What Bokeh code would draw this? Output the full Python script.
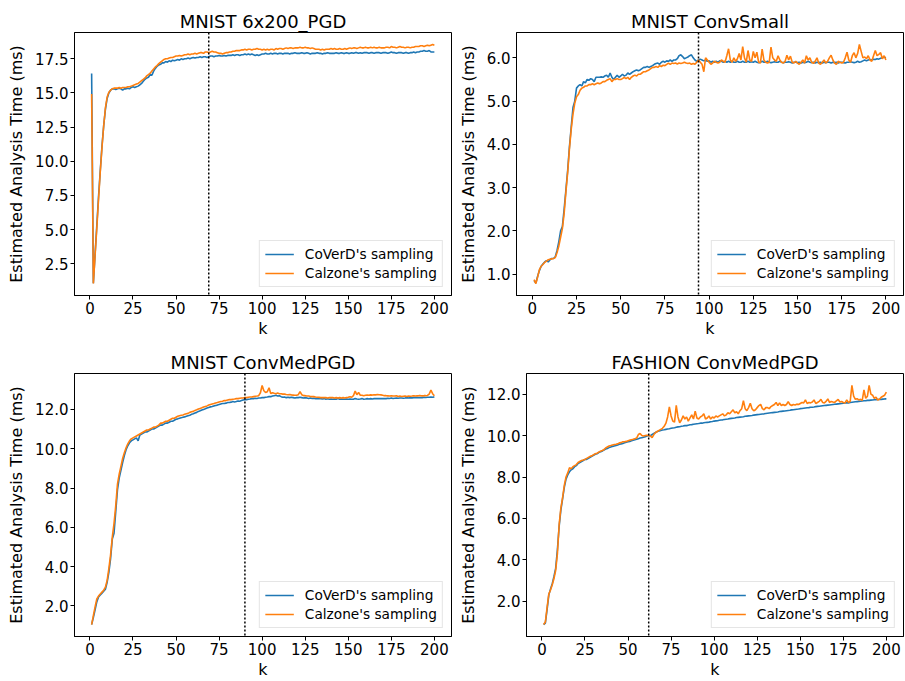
from bokeh.plotting import figure
from bokeh.layouts import column, row
from bokeh.models import Range1d, Span, Legend, LegendItem, FixedTicker, PrintfTickFormatter
from bokeh.embed import file_html
from bokeh.resources import INLINE

k = list(range(1, 201))
x_ticks = [0, 25, 50, 75, 100, 125, 150, 175, 200]
series_names = ["CoVerD's sampling", "Calzone's sampling"]
colors = ["#1f77b4", "#ff7f0e"]

# ---------- MNIST 6x200_PGD ----------
title1 = "MNIST 6x200_PGD"
vline1 = 69
yticks1 = [2.5, 5.0, 7.5, 10.0, 12.5, 15.0, 17.5]
coverd1 = [
    16.43, 1.08, 3.2, 5.3, 7.4, 9.3, 11.1, 12.6, 13.8, 14.6,
    15.0, 15.2, 15.3, 15.3, 15.25, 15.3, 15.35, 15.3, 15.2, 15.3,
    15.3, 15.35, 15.3, 15.4, 15.45, 15.4, 15.45, 15.5, 15.6, 15.7,
    15.85, 16.0, 16.1, 16.15, 16.35, 16.3, 16.6, 16.8, 16.95, 17.05,
    17.1, 17.2, 17.2, 17.3, 17.25, 17.35, 17.3, 17.4, 17.35, 17.4,
    17.45, 17.4, 17.5, 17.45, 17.5, 17.5, 17.55, 17.5, 17.55, 17.6,
    17.55, 17.6, 17.6, 17.65, 17.6, 17.65, 17.65, 17.6, 17.65, 17.7,
    17.7, 17.65, 17.7, 17.7, 17.75, 17.7, 17.7, 17.75, 17.7, 17.75,
    17.75, 17.75, 17.8, 17.75, 17.8, 17.8, 17.75, 17.8, 17.8, 17.85,
    17.8, 17.85, 17.8, 17.85, 17.8, 17.75, 17.8, 17.75, 17.8, 17.85,
    17.85, 17.9, 17.85, 17.85, 17.9, 17.85, 17.9, 17.9, 17.85, 17.9,
    17.9, 17.85, 17.9, 17.9, 17.9, 17.85, 17.9, 17.9, 17.95, 17.9,
    17.9, 17.9, 17.95, 17.9, 17.9, 17.95, 17.9, 17.85, 17.9, 17.9,
    17.9, 17.95, 17.9, 17.9, 17.85, 17.9, 17.9, 17.95, 17.9, 17.9,
    17.9, 17.9, 17.95, 17.9, 17.9, 17.95, 17.9, 17.9, 17.95, 17.9,
    17.9, 17.95, 17.9, 17.95, 17.95, 17.9, 17.95, 17.9, 17.95, 17.95,
    17.95, 17.9, 17.95, 17.95, 17.9, 17.95, 17.95, 17.95, 17.9, 17.95,
    17.95, 17.95, 17.9, 17.95, 18.0, 17.95, 17.95, 17.9, 17.95, 17.95,
    17.95, 17.9, 17.95, 17.95, 17.9, 17.95, 17.95, 18.0, 17.95, 18.0,
    18.0, 18.05, 18.05, 18.1, 18.05, 18.05, 18.1, 18.0, 18.0, 18.0,
]
calzone1 = [
    14.92, 1.05, 3.1, 5.1, 7.2, 9.2, 11.0, 12.6, 13.9, 14.7,
    15.05, 15.2, 15.3, 15.35, 15.35, 15.35, 15.4, 15.35, 15.4, 15.4,
    15.4, 15.45, 15.45, 15.5, 15.55, 15.6, 15.65, 15.7, 15.8, 15.9,
    16.0, 16.1, 16.25, 16.35, 16.45, 16.6, 16.75, 16.9, 17.0, 17.15,
    17.25, 17.35, 17.45, 17.5, 17.5, 17.55, 17.6, 17.6, 17.65, 17.7,
    17.7, 17.75, 17.7, 17.75, 17.8, 17.8, 17.85, 17.8, 17.85, 17.85,
    17.9, 17.85, 17.9, 17.95, 17.95, 17.9, 18.0, 18.0, 17.95, 18.0,
    18.05, 18.0, 18.0, 17.95, 17.9, 17.9, 17.85, 17.9, 17.95, 17.95,
    18.0, 18.0, 18.05, 18.05, 18.1, 18.1, 18.1, 18.15, 18.15, 18.2,
    18.15, 18.2, 18.2, 18.15, 18.2, 18.2, 18.25, 18.2, 18.2, 18.15,
    18.2, 18.15, 18.2, 18.15, 18.2, 18.2, 18.15, 18.25, 18.2, 18.25,
    18.25, 18.2, 18.25, 18.3, 18.25, 18.3, 18.3, 18.25, 18.3, 18.3,
    18.3, 18.35, 18.3, 18.3, 18.35, 18.3, 18.3, 18.25, 18.3, 18.25,
    18.2, 18.2, 18.2, 18.15, 18.2, 18.15, 18.2, 18.2, 18.2, 18.25,
    18.2, 18.25, 18.2, 18.2, 18.25, 18.2, 18.2, 18.25, 18.2, 18.25,
    18.3, 18.25, 18.3, 18.3, 18.25, 18.3, 18.35, 18.3, 18.3, 18.35,
    18.3, 18.3, 18.35, 18.3, 18.35, 18.3, 18.3, 18.35, 18.3, 18.3,
    18.3, 18.35, 18.35, 18.3, 18.4, 18.35, 18.35, 18.3, 18.35, 18.4,
    18.35, 18.35, 18.3, 18.35, 18.35, 18.3, 18.35, 18.35, 18.4, 18.4,
    18.4, 18.45, 18.45, 18.4, 18.45, 18.5, 18.45, 18.5, 18.55, 18.5,
]

# ---------- MNIST ConvSmall ----------
title2 = "MNIST ConvSmall"
vline2 = 94
yticks2 = [1.0, 2.0, 3.0, 4.0, 5.0, 6.0]
coverd2 = [
    0.85, 0.79, 0.95, 1.08, 1.18, 1.23, 1.28, 1.31, 1.28, 1.33,
    1.36, 1.36, 1.4, 1.55, 1.75, 2.0, 2.1, 2.5, 2.95, 3.4,
    3.95, 4.4, 4.85, 5.0, 5.3, 5.35, 5.38, 5.35, 5.45, 5.42,
    5.5, 5.48, 5.52, 5.5, 5.45, 5.55, 5.55, 5.55, 5.56, 5.55,
    5.58, 5.6, 5.55, 5.65, 5.55, 5.5, 5.55, 5.6, 5.55, 5.58,
    5.62, 5.58, 5.6, 5.65, 5.62, 5.65, 5.68, 5.7, 5.72, 5.7,
    5.72, 5.75, 5.78, 5.78, 5.8, 5.78, 5.8, 5.82, 5.85, 5.87,
    5.88, 5.85, 5.9, 5.92, 5.9, 5.93, 5.92, 5.95, 5.92, 5.95,
    5.95, 5.98, 6.05, 6.07, 6.03, 5.98, 6.0, 6.02, 6.05, 6.07,
    6.0, 5.95, 5.92, 5.95, 5.97, 5.95, 5.93, 5.95, 5.92, 5.93,
    5.9, 5.92, 5.9, 5.92, 5.9, 5.93, 5.92, 5.9, 5.92, 5.9,
    5.92, 5.9, 5.92, 5.9, 5.9, 5.92, 5.9, 5.9, 5.92, 5.9,
    5.9, 5.92, 5.9, 5.91, 5.9, 5.92, 5.9, 5.89, 5.9, 5.92,
    5.9, 5.9, 5.92, 5.9, 5.89, 5.9, 5.91, 5.9, 5.9, 5.92,
    5.9, 5.89, 5.9, 5.9, 5.91, 5.9, 5.88, 5.9, 5.9, 5.89,
    5.9, 5.88, 5.9, 5.89, 5.9, 5.92, 5.9, 5.89, 5.9, 5.88,
    5.9, 5.89, 5.9, 5.88, 5.9, 5.89, 5.9, 5.9, 5.88, 5.9,
    5.89, 5.9, 5.88, 5.9, 5.9, 5.89, 5.88, 5.9, 5.9, 5.91,
    5.9, 5.89, 5.9, 5.92, 5.9, 5.91, 5.93, 5.95, 5.93, 5.95,
    5.96, 5.95, 5.97, 5.96, 5.98, 5.97, 5.99, 6.0, 6.02, 6.0,
]
calzone2 = [
    0.87, 0.78, 0.93, 1.1, 1.18, 1.22, 1.27, 1.3, 1.33, 1.34,
    1.35, 1.36, 1.38, 1.5, 1.65, 1.85, 2.05, 2.4, 2.9, 3.35,
    3.9, 4.35, 4.7, 4.95, 5.1, 5.15, 5.25, 5.3, 5.32, 5.35,
    5.35, 5.38, 5.38, 5.4, 5.38, 5.4, 5.42, 5.4, 5.42, 5.45,
    5.45, 5.48, 5.5, 5.52, 5.45, 5.5, 5.5, 5.52, 5.5, 5.5,
    5.52, 5.55, 5.52, 5.55, 5.5, 5.55, 5.58, 5.6, 5.58, 5.62,
    5.62, 5.65, 5.68, 5.68, 5.7, 5.72, 5.75, 5.78, 5.78, 5.8,
    5.78, 5.82, 5.8, 5.83, 5.82, 5.85, 5.88, 5.85, 5.88, 5.87,
    5.88, 5.86, 5.88, 5.87, 5.88, 5.9, 5.88, 5.87, 5.88, 5.85,
    5.87, 5.85, 5.9, 5.95, 5.9, 5.85, 5.68, 6.0, 5.95, 5.9,
    5.85, 5.88, 5.92, 5.9, 5.88, 5.9, 5.95, 5.92, 5.9, 6.05,
    6.21, 5.95, 5.9, 6.0, 5.92, 5.98, 6.1, 5.95, 6.26, 6.0,
    5.9, 6.17, 5.95, 5.92, 6.15, 6.0, 6.13, 5.9, 5.88, 6.2,
    5.95, 5.9, 5.88, 5.9, 6.25, 6.0, 5.95, 5.92, 6.05, 5.95,
    5.9, 5.88, 5.92, 6.06, 5.95, 6.04, 5.9, 5.88, 5.92, 5.88,
    5.85, 5.9, 5.95, 5.88, 6.05, 5.95, 6.0, 5.9, 5.87, 5.92,
    6.0, 5.88, 5.85, 5.9, 5.95, 5.88, 5.92, 6.0, 6.06, 5.95,
    5.88, 5.85, 5.92, 5.9, 5.88, 5.9, 6.0, 6.13, 5.95, 5.9,
    6.05, 6.12, 6.0, 6.1, 6.31, 6.15, 6.0, 6.02, 5.98, 6.05,
    5.95, 5.92, 6.05, 6.17, 6.05, 6.08, 6.12, 5.98, 6.05, 5.95,
]

# ---------- MNIST ConvMedPGD ----------
title3 = "MNIST ConvMedPGD"
vline3 = 90
yticks3 = [2.0, 4.0, 6.0, 8.0, 10.0, 12.0]
coverd3 = [
    1.05, 1.4, 1.8, 2.2, 2.45, 2.55, 2.65, 2.75, 2.85, 3.2,
    3.7, 4.4, 5.4, 5.7, 6.8, 7.9, 8.5, 8.9, 9.3, 9.65,
    9.95, 10.15, 10.3, 10.4, 10.45, 10.5, 10.55, 10.4, 10.7, 10.75,
    10.8, 10.85, 10.85, 10.9, 10.95, 11.0, 11.0, 11.05, 11.1, 11.15,
    11.2, 11.2, 11.25, 11.3, 11.3, 11.35, 11.4, 11.4, 11.45, 11.5,
    11.52, 11.55, 11.58, 11.6, 11.62, 11.65, 11.68, 11.7, 11.75, 11.78,
    11.82, 11.85, 11.9, 11.93, 11.97, 12.0, 12.03, 12.07, 12.1, 12.13,
    12.15, 12.18, 12.2, 12.22, 12.25, 12.28, 12.3, 12.3, 12.32, 12.35,
    12.35, 12.37, 12.4, 12.38, 12.4, 12.43, 12.42, 12.45, 12.48, 12.5,
    12.5, 12.52, 12.53, 12.55, 12.55, 12.57, 12.56, 12.58, 12.58, 12.6,
    12.6, 12.62, 12.63, 12.65, 12.65, 12.68, 12.7, 12.72, 12.68, 12.7,
    12.65, 12.62, 12.63, 12.6, 12.62, 12.6, 12.62, 12.6, 12.58, 12.6,
    12.6, 12.62, 12.6, 12.58, 12.6, 12.58, 12.56, 12.58, 12.56, 12.57,
    12.55, 12.56, 12.55, 12.55, 12.53, 12.55, 12.52, 12.54, 12.52, 12.53,
    12.52, 12.53, 12.52, 12.55, 12.52, 12.53, 12.52, 12.52, 12.53, 12.52,
    12.53, 12.52, 12.52, 12.55, 12.53, 12.52, 12.53, 12.55, 12.52, 12.53,
    12.55, 12.53, 12.55, 12.53, 12.55, 12.55, 12.56, 12.55, 12.56, 12.55,
    12.56, 12.55, 12.57, 12.56, 12.58, 12.56, 12.57, 12.58, 12.57, 12.58,
    12.58, 12.57, 12.58, 12.6, 12.58, 12.6, 12.59, 12.6, 12.6, 12.6,
    12.6, 12.61, 12.6, 12.62, 12.61, 12.62, 12.62, 12.63, 12.62, 12.64,
]
calzone3 = [
    1.05, 1.5, 1.95, 2.35, 2.5, 2.6, 2.7, 2.8, 2.95, 3.3,
    3.9, 4.6, 5.5, 6.2, 7.1, 8.2, 8.7, 9.1, 9.5, 9.8,
    10.05, 10.25, 10.4, 10.5, 10.55, 10.6, 10.65, 10.7, 10.75, 10.8,
    10.85, 10.9, 10.95, 10.95, 11.0, 11.05, 11.1, 11.1, 11.15, 11.2,
    11.3, 11.3, 11.35, 11.4, 11.4, 11.45, 11.5, 11.55, 11.55, 11.6,
    11.65, 11.68, 11.7, 11.72, 11.75, 11.78, 11.8, 11.85, 11.88, 11.9,
    11.95, 11.98, 12.02, 12.05, 12.08, 12.12, 12.15, 12.18, 12.22, 12.25,
    12.28, 12.3, 12.33, 12.35, 12.38, 12.4, 12.42, 12.45, 12.45, 12.48,
    12.5, 12.5, 12.52, 12.53, 12.55, 12.55, 12.57, 12.58, 12.58, 12.6,
    12.6, 12.62, 12.63, 12.63, 12.65, 12.67, 12.68, 12.7, 12.85, 13.22,
    12.95, 12.86, 12.9, 13.1, 12.81, 12.85, 12.82, 12.8, 12.83, 12.8,
    12.8, 12.78, 12.78, 12.76, 12.75, 12.76, 12.74, 12.73, 12.72, 12.72,
    12.75, 12.9, 12.75, 12.7, 12.7, 12.68, 12.68, 12.66, 12.65, 12.65,
    12.63, 12.62, 12.62, 12.6, 12.6, 12.6, 12.6, 12.58, 12.6, 12.6,
    12.6, 12.58, 12.6, 12.58, 12.6, 12.58, 12.6, 12.58, 12.6, 12.62,
    12.65, 12.62, 12.7, 12.93, 12.75, 12.86, 12.72, 12.72, 12.7, 12.72,
    12.73, 12.72, 12.74, 12.73, 12.75, 12.74, 12.76, 12.75, 12.74, 12.72,
    12.7, 12.7, 12.69, 12.68, 12.7, 12.68, 12.68, 12.7, 12.66, 12.68,
    12.66, 12.67, 12.68, 12.66, 12.68, 12.67, 12.68, 12.7, 12.68, 12.69,
    12.7, 12.7, 12.69, 12.7, 12.7, 12.71, 12.78, 12.98, 12.8, 12.7,
]

# ---------- FASHION ConvMedPGD ----------
title4 = "FASHION ConvMedPGD"
vline4 = 62
yticks4 = [2.0, 4.0, 6.0, 8.0, 10.0, 12.0]
coverd4 = [
    0.88, 0.95, 1.6, 2.3, 2.6, 2.85, 3.2, 3.6, 4.5, 5.6,
    6.4, 6.95, 7.5, 7.9, 8.1, 8.25, 8.35, 8.4, 8.5, 8.55,
    8.65, 8.7, 8.75, 8.8, 8.85, 8.85, 8.9, 8.95, 9.0, 9.05,
    9.1, 9.12, 9.18, 9.22, 9.25, 9.3, 9.35, 9.38, 9.42, 9.45,
    9.48, 9.5, 9.52, 9.55, 9.58, 9.6, 9.62, 9.65, 9.68, 9.7,
    9.72, 9.75, 9.78, 9.8, 9.82, 9.85, 9.88, 9.9, 9.92, 9.95,
    9.98, 10.0, 10.0, 10.05, 10.1, 10.15, 10.2, 10.22, 10.25, 10.27,
    10.28, 10.3, 10.32, 10.33, 10.35, 10.37, 10.38, 10.4, 10.42, 10.43,
    10.45, 10.46, 10.48, 10.48, 10.5, 10.52, 10.53, 10.55, 10.56, 10.57,
    10.58, 10.6, 10.6, 10.62, 10.63, 10.64, 10.65, 10.67, 10.68, 10.7,
    10.71, 10.72, 10.74, 10.75, 10.76, 10.78, 10.79, 10.8, 10.82, 10.83,
    10.84, 10.85, 10.87, 10.88, 10.89, 10.9, 10.91, 10.93, 10.94, 10.95,
    10.96, 10.97, 10.99, 11.0, 11.01, 11.02, 11.03, 11.04, 11.05, 11.07,
    11.08, 11.09, 11.1, 11.11, 11.12, 11.13, 11.14, 11.16, 11.17, 11.18,
    11.19, 11.2, 11.21, 11.22, 11.24, 11.25, 11.26, 11.27, 11.28, 11.3,
    11.31, 11.32, 11.33, 11.34, 11.35, 11.37, 11.37, 11.38, 11.4, 11.41,
    11.42, 11.43, 11.44, 11.45, 11.46, 11.47, 11.48, 11.49, 11.5, 11.51,
    11.52, 11.53, 11.54, 11.55, 11.56, 11.57, 11.58, 11.58, 11.6, 11.61,
    11.62, 11.63, 11.64, 11.65, 11.66, 11.67, 11.68, 11.68, 11.7, 11.7,
    11.71, 11.72, 11.73, 11.73, 11.74, 11.75, 11.75, 11.76, 11.77, 11.77,
]
calzone4 = [
    0.88, 1.0, 1.7, 2.35, 2.55, 2.8, 3.1, 3.5, 4.3, 5.7,
    6.5, 7.0, 7.6, 8.0, 8.2, 8.45, 8.4, 8.5, 8.55, 8.6,
    8.7, 8.75, 8.8, 8.82, 8.85, 8.9, 8.95, 9.0, 9.02, 9.08,
    9.12, 9.15, 9.2, 9.25, 9.28, 9.32, 9.4, 9.45, 9.5, 9.52,
    9.55, 9.57, 9.58, 9.6, 9.65, 9.66, 9.7, 9.7, 9.72, 9.75,
    9.78, 9.8, 9.82, 9.85, 9.88, 10.05, 10.1, 10.0, 9.98, 10.0,
    10.02, 10.0, 9.98, 9.9, 10.05, 10.15, 10.2, 10.25, 10.3, 10.35,
    10.45, 10.6, 10.9, 11.38, 10.95, 10.7, 10.65, 11.46, 10.9, 10.62,
    10.75, 10.95, 10.8, 10.9, 10.7, 10.85, 11.0, 10.8, 11.18, 10.85,
    10.8, 10.9, 10.95, 11.05, 10.8, 10.85, 10.95, 10.8, 10.9, 10.85,
    10.95, 10.9, 10.95, 11.0, 11.05, 10.95, 11.0, 11.1, 11.05, 11.15,
    11.24, 11.1, 11.15, 11.05, 11.2, 11.3, 11.68, 11.3, 11.2, 11.35,
    11.56, 11.3, 11.2, 11.25, 11.35, 11.45, 11.51, 11.3, 11.25, 11.35,
    11.35, 11.3, 11.4, 11.45, 11.5, 11.6, 11.45, 11.58, 11.45, 11.5,
    11.45, 11.5, 11.64, 11.5, 11.45, 11.5, 11.48, 11.52, 11.5, 11.55,
    11.6, 11.58, 11.72, 11.55, 11.6, 11.58, 11.62, 11.72, 11.55, 11.6,
    11.65, 11.75, 11.6, 11.58, 11.65, 11.77, 11.6, 11.65, 11.62, 11.6,
    11.68, 11.75, 11.62, 11.65, 11.6, 11.58, 11.72, 11.6, 11.65, 12.42,
    11.9, 11.75, 11.78, 11.72, 11.75, 11.7, 12.21, 11.8, 11.9, 12.42,
    12.0, 11.95, 11.8, 11.85, 11.72, 11.75, 11.85, 11.9, 11.95, 12.1,
]

FONT = "DejaVu Sans"


def make_panel(title, coverd, calzone, vline, yticks, width, height,
               b_left, b_right, b_top, b_bottom):
    lo = min(min(coverd), min(calzone))
    hi = max(max(coverd), max(calzone))
    pad = 0.05 * (hi - lo)
    xpad = 0.05 * (k[-1] - k[0])
    p = figure(width=width, height=height, output_backend="svg",
               toolbar_location=None,
               x_range=Range1d(k[0] - xpad, k[-1] + xpad),
               y_range=Range1d(lo - pad, hi + pad),
               min_border_left=b_left, min_border_right=b_right,
               min_border_top=b_top, min_border_bottom=b_bottom)
    p.title.text = title
    p.title.text_font = FONT
    p.title.text_font_size = "18px"
    p.title.text_font_style = "normal"
    p.title.align = "center"
    p.title.standoff = 2
    p.title.text_color = "black"

    p.grid.visible = False
    p.outline_line_color = "black"
    p.outline_line_width = 1
    p.background_fill_color = "white"
    p.border_fill_color = "white"

    for ax in (p.xaxis[0], p.yaxis[0]):
        ax.axis_line_color = "black"
        ax.major_tick_line_color = "black"
        ax.minor_tick_line_color = None
        ax.major_tick_in = 0
        ax.major_tick_out = 4
        ax.major_label_standoff = 2
        ax.major_label_text_font = FONT
        ax.major_label_text_font_size = "15px"
        ax.major_label_text_color = "black"
        ax.axis_label_text_font = FONT
        ax.axis_label_text_font_size = "16px"
        ax.axis_label_text_font_style = "normal"
        ax.axis_label_text_color = "black"

    p.xaxis.axis_label = "k"
    p.xaxis.axis_label_standoff = 2
    p.xaxis.ticker = FixedTicker(ticks=x_ticks)
    p.yaxis.axis_label = "Estimated Analysis Time (ms)"
    p.yaxis.axis_label_standoff = 6
    p.yaxis.ticker = FixedTicker(ticks=yticks)
    p.yaxis.formatter = PrintfTickFormatter(format="%.1f")

    r1 = p.line(k, coverd, line_color=colors[0], line_width=1.6)
    r2 = p.line(k, calzone, line_color=colors[1], line_width=1.6)

    p.add_layout(Span(location=vline, dimension="height", line_color="black",
                      line_width=1.5, line_dash="2 2"))

    legend = Legend(items=[LegendItem(label=series_names[0], renderers=[r1]),
                           LegendItem(label=series_names[1], renderers=[r2])],
                    location="bottom_right")
    legend.label_text_font = FONT
    legend.label_text_font_size = "13.7px"
    legend.label_text_color = "black"
    legend.glyph_width = 29
    legend.glyph_height = 16
    legend.label_height = 16
    legend.label_standoff = 11
    legend.spacing = 3
    legend.padding = 5
    legend.margin = 8
    legend.border_line_color = "#cccccc"
    legend.border_line_width = 1
    legend.background_fill_color = "white"
    legend.background_fill_alpha = 0.8
    p.add_layout(legend, "center")
    return p


# row 1 height 340, row 2 height 341
p1 = make_panel(title1, coverd1, calzone1, vline1, yticks1, 452, 340, 74, 1, 32, 45)
p2 = make_panel(title2, coverd2, calzone2, vline2, yticks2, 453, 340, 64, 2, 32, 45)
p3 = make_panel(title3, coverd3, calzone3, vline3, yticks3, 452, 341, 74, 1, 33, 45)
p4 = make_panel(title4, coverd4, calzone4, vline4, yticks4, 453, 341, 74, 2, 33, 45)

layout = column(row(p1, p2), row(p3, p4))

open("out.html", "w").write(file_html(layout, INLINE))
